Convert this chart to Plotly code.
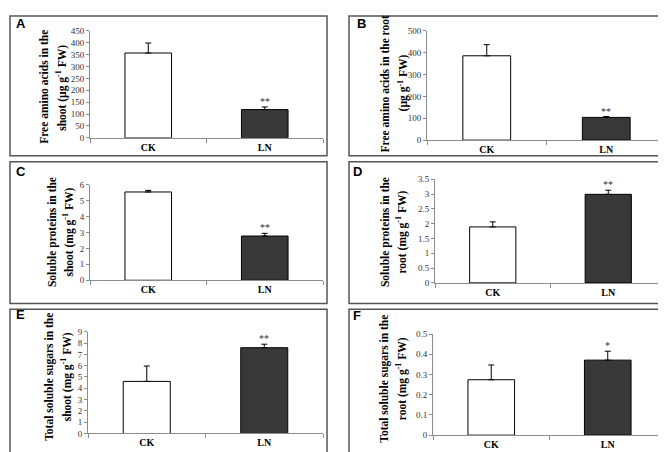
import plotly.graph_objects as go

categories = ["CK", "LN"]

a_mean = [357, 119]
a_err = [42, 11]
b_mean = [386, 104]
b_err = [51, 4]
c_mean = [5.55, 2.78]
c_err = [0.10, 0.17]
d_mean = [1.89, 2.99]
d_err = [0.17, 0.14]
e_mean = [4.61, 7.59]
e_err = [1.36, 0.31]
f_mean = [0.274, 0.371]
f_err = [0.073, 0.044]

signif = ["**", "**", "**", "**", "**", "*"]
letters = ["A", "B", "C", "D", "E", "F"]
y_titles = [
    ("Free amino acids in the", "shoot (µg g<sup>-1</sup> FW)"),
    ("Free amino acids in the root", "(µg g<sup>-1</sup> FW)"),
    ("Soluble proteins in the", "shoot (mg g<sup>-1</sup> FW)"),
    ("Soluble proteins in the", "root (mg g<sup>-1</sup> FW)"),
    ("Total soluble sugars in the", "shoot (mg g<sup>-1</sup> FW)"),
    ("Total soluble sugars in the", "root (mg g<sup>-1</sup> FW)"),
]
y_max = [450, 500, 6, 3.5, 9, 0.5]
y_dtick = [50, 100, 1, 0.5, 1, 0.1]

means = [a_mean, b_mean, c_mean, d_mean, e_mean, f_mean]
errs = [a_err, b_err, c_err, d_err, e_err, f_err]

W, H = 666, 452
# plot area pixel geometry: (x_left, x_right, y_top, y_bottom)
plot_px = [
    (82, 315, 18.3, 127.7),
    (419, 658, 18.3, 130),
    (82, 315, 175.7, 273.3),
    (427, 658, 170, 276),
    (80, 315, 326, 430),
    (425, 658, 328.3, 431.7),
]
# panel boxes (x0, y0, x1, y1)
boxes = [
    (2, 3, 319, 146), (341, 3, 662, 146),
    (2, 152, 319, 297), (341, 152, 662, 297),
    (2, 303, 319, 450), (341, 303, 662, 450),
]
letter_pos = [(13, 11), (353, 11), (13, 162), (349, 162), (12, 308), (349, 309)]
# (line1 x, line2 x, vertical centre)
title_pos = [(36.5, 53.5, 76), (377, 395, 72), (44, 60.5, 224),
             (377, 393.5, 224), (42, 58.5, 372), (377, 393.5, 374)]

bar_colors = ["#ffffff", "#383838"]
serif = "Liberation Serif"

fig = go.Figure()
layout = dict(
    width=W, height=H, margin=dict(l=0, r=0, t=0, b=0),
    paper_bgcolor="white", plot_bgcolor="white", showlegend=False,
)
annotations = []
shapes = []

for i in range(6):
    n = "" if i == 0 else str(i + 1)
    xl, xr, yt, yb = plot_px[i]
    fig.add_trace(go.Bar(
        x=categories, y=means[i], width=0.4,
        marker=dict(color=bar_colors, line=dict(color="#000000", width=1)),
        error_y=dict(type="data", symmetric=False, array=errs[i],
                     arrayminus=[0, 0], color="#000000", thickness=1, width=3),
        xaxis="x" + n, yaxis="y" + n,
    ))
    layout["xaxis" + n] = dict(
        domain=[xl / W, xr / W], anchor="y" + n, type="category",
        range=[-0.5, 1.5], showline=True, linecolor="#8c8c8c", linewidth=1,
        ticks="outside", tickson="boundaries", ticklen=4, tickcolor="#8c8c8c",
        tickfont=dict(family=serif, size=10, color="#000000", weight="bold"),
        showgrid=False, fixedrange=True,
    )
    layout["yaxis" + n] = dict(
        domain=[1 - yb / H, 1 - yt / H], anchor="x" + n,
        range=[0, y_max[i]], dtick=y_dtick[i], showline=True,
        linecolor="#8c8c8c", linewidth=1, ticks="outside", ticklen=3,
        tickcolor="#8c8c8c", showgrid=False, zeroline=False,
        tickfont=dict(family=serif, size=9, color="#333333"), fixedrange=True,
    )
    annotations.append(dict(
        x="LN", y=means[i][1] + errs[i][1], xref="x" + n, yref="y" + n,
        text=signif[i], showarrow=False, yanchor="bottom", yshift=-2,
        font=dict(family=serif, size=10, color="#333333"),
    ))
    lx, ly = letter_pos[i]
    annotations.append(dict(
        x=lx / W, y=1 - ly / H, xref="paper", yref="paper", text=letters[i],
        showarrow=False, xanchor="center", yanchor="middle",
        font=dict(family="Liberation Sans", size=13, color="#000000", weight="bold"),
    ))
    t1x, t2x, ty = title_pos[i]
    for txt, tx in zip(y_titles[i], (t1x, t2x)):
        annotations.append(dict(
            x=tx / W, y=1 - ty / H, xref="paper", yref="paper", text=txt,
            showarrow=False, textangle=-90, xanchor="center", yanchor="middle",
            font=dict(family=serif, size=11.5, color="#000000", weight="bold"),
        ))
    x0, y0, x1, y1 = boxes[i]
    shapes.append(dict(
        type="rect", xref="paper", yref="paper",
        x0=x0 / W, x1=x1 / W, y0=1 - y1 / H, y1=1 - y0 / H,
        line=dict(color="#555555", width=1.5), fillcolor="rgba(0,0,0,0)",
        layer="below",
    ))

layout["annotations"] = annotations
layout["shapes"] = shapes
fig.update_layout(**layout)
fig.write_html("out.html")
